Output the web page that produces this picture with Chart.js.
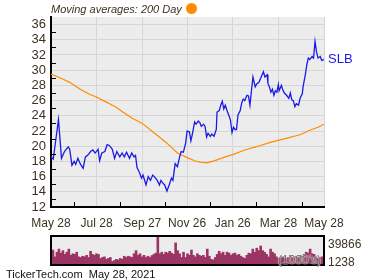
<!DOCTYPE html>
<html>
<head>
<meta charset="utf-8">
<script src="https://cdn.jsdelivr.net/npm/chart.js"></script>
<style>
  body { margin: 0; background: #fff; }
  #wrap { position: relative; width: 380px; height: 280px; overflow: hidden; font-family: "Liberation Sans", Arial, sans-serif; color: #3c3320; }
  #price-chart { position: absolute; left: 0; top: 0; }
  .txt { position: absolute; white-space: nowrap; font-size: 12px; line-height: 14px; }
  #title { left: 51px; top: 2px; font-style: italic; font-size: 11px; }
  #dot { position: absolute; left: 186px; top: 3px; width: 11px; height: 11px; border-radius: 50%; background: #ff8c00; }
  #vol-box { position: absolute; left: 50px; top: 235px; width: 271px; height: 27px; border: 2px solid #000; background: #ececec; }
  #vol-chart { position: absolute; left: 0; top: 0; }
  #unit { right: 2px; top: 16px; color: #5f6e60; text-shadow: 0 0 2px #fff, 0 0 1px #fff; }
  #footer { left: 6px; top: 267px; color: #111; font-size: 11px; }
</style>
</head>
<body>
<div id="wrap">
  <canvas id="price-chart" width="380" height="280"></canvas>
  <div class="txt" id="title">Moving averages: 200 Day</div>
  <div id="dot"></div>
  <div id="vol-box">
    <canvas id="vol-chart" width="271" height="27"></canvas>
    <div class="txt" id="unit">(1000's)</div>
  </div>
  <div class="txt" id="vol-max" style="left:328px;top:237px;"></div>
  <div class="txt" id="vol-min" style="left:328px;top:255px;"></div>
  <div class="txt" id="footer">TickerTech.com&nbsp;&nbsp;May 28, 2021</div>
</div>
<script>
  "use strict";

  // days since May 28, 2020
  const priceDays = [0, 3, 10, 14, 18, 23, 25, 28, 31, 33, 36, 39, 43, 46, 49, 53, 56, 59, 63, 65, 68, 72, 75, 78, 82, 85, 88, 92, 95, 98, 101, 105, 108, 111, 113, 115, 118, 121, 123, 127, 130, 133, 136, 139, 142, 145, 147, 149, 152, 155, 158, 161, 163, 166, 169, 172, 174, 177, 180, 182, 185, 187, 189, 192, 194, 197, 199, 201, 204, 206, 208, 210, 213, 215, 218, 221, 222, 225, 227, 229, 231, 233, 236, 238, 240, 242, 244, 246, 248, 250, 253, 255, 257, 259, 262, 264, 266, 268, 270, 273, 275, 278, 281, 284, 286, 289, 290, 292, 294, 296, 298, 300, 302, 304, 305, 308, 310, 312, 315, 318, 320, 322, 324, 326, 328, 331, 333, 336, 337, 340, 342, 344, 346, 349, 351, 353, 355, 357, 360, 362, 365];
  const prices = [18.6, 18.3, 23.5, 18.4, 19.3, 19.9, 19.6, 17.5, 18.0, 17.6, 18.4, 17.7, 17.1, 18.6, 18.8, 19.3, 19.5, 19.1, 19.6, 18.1, 19.1, 19.3, 20.2, 20.1, 19.6, 18.4, 19.3, 18.6, 19.1, 18.6, 19.2, 18.4, 19.1, 18.6, 18.8, 17.2, 16.6, 15.8, 16.2, 14.9, 16.0, 15.5, 16.2, 15.9, 15.5, 14.9, 15.5, 15.2, 14.9, 14.1, 14.9, 15.8, 15.5, 17.7, 17.3, 18.6, 19.3, 19.2, 20.4, 22.0, 21.9, 20.7, 21.6, 23.2, 22.9, 23.3, 23.1, 22.6, 22.9, 22.6, 21.2, 21.7, 21.3, 21.6, 21.3, 22.2, 24.5, 24.7, 25.4, 25.9, 24.9, 25.4, 24.5, 24.0, 23.4, 21.8, 22.5, 22.2, 22.2, 24.1, 24.7, 25.7, 26.2, 26.0, 26.7, 26.6, 25.4, 27.3, 29.1, 27.8, 28.2, 28.4, 29.1, 29.8, 29.1, 29.4, 28.3, 27.8, 27.1, 27.5, 26.7, 27.3, 27.1, 28.1, 27.3, 28.0, 27.4, 27.0, 26.7, 26.3, 27.0, 26.1, 26.0, 25.2, 25.6, 25.4, 26.3, 26.9, 27.8, 29.4, 30.7, 31.6, 31.4, 31.8, 31.6, 33.8, 32.4, 31.6, 31.8, 31.3, 31.4];

  // 200 day moving average
  const maDays = [0, 12, 25, 39, 52, 60, 72, 86, 96, 108, 122, 136, 146, 155, 169, 182, 193, 199, 209, 219, 233, 243, 259, 277, 293, 313, 333, 346, 357, 365];
  const maValues = [29.5, 29.0, 28.4, 27.5, 26.8, 26.5, 25.9, 25.2, 24.5, 23.7, 23.0, 21.9, 21.1, 20.4, 19.1, 18.5, 18.05, 17.9, 17.8, 18.1, 18.6, 18.9, 19.5, 20.0, 20.5, 21.0, 21.5, 22.1, 22.5, 22.9];

  // volume (1000's)
  const volumes = [21220, 11450, 18110, 22550, 16780, 20330, 15000, 18110, 22550, 13670, 15890, 15000, 18110, 11450, 10560, 12340, 11450, 13670, 10560, 19440, 15000, 13670, 15890, 15000, 9230, 10560, 11450, 7900, 9230, 10560, 4790, 6120, 7900, 7010, 9230, 7900, 12340, 10560, 12340, 11450, 10560, 15890, 20330, 13670, 15890, 11450, 13670, 10560, 12340, 10560, 13230, 15000, 16780, 39866, 15890, 18110, 15000, 18110, 16780, 19440, 16780, 15000, 31430, 20330, 15890, 10560, 18110, 10560, 15890, 13670,
    21220, 13670, 11450, 15890, 13670, 12340, 13670, 10560, 22550, 12340, 7900, 7010, 10560, 15000, 19440, 15890, 18110, 13670, 18110, 16780, 13670, 15890, 16780, 13670, 15000, 12340, 10560, 9230, 13670, 16780, 15890, 22550, 18110, 23880, 20330, 27000, 20330, 18110, 15000, 11450, 22550, 18110, 15890, 11450, 9230, 10560, 11450, 10560, 9230, 10560, 13670, 10560, 11450, 12340, 10560, 13670, 12340, 15000, 18110, 16780, 22550, 15890, 15000, 11450, 9230, 10560, 11450];
  const volMax = 39866;
  const volMin = 1238;

  const xTickDays = [0, 61, 122, 182, 243, 304, 365];
  const xTickLabels = ["May 28", "Jul 28", "Sep 27", "Nov 26", "Jan 26", "Mar 28", "May 28"];
  const xMinorDays = [31, 92, 152, 212, 274, 335];
  const yTicks = [12, 14, 16, 18, 20, 22, 24, 26, 28, 30, 32, 34, 36];
  const yMinor = [13, 15, 17, 19, 21, 23, 25, 27, 29, 31, 33, 35];
  const ticker = "SLB";

  const textColor = "#3c3320";
  const font = { family: "'Liberation Sans', Arial, sans-serif", size: 12 };

  // Plot background
  let plotBg = {
    id: "plotBg",
    beforeDraw: function (chart) {
      const a = chart.chartArea;
      const ctx = chart.ctx;
      ctx.save();
      ctx.fillStyle = "#ececec";
      ctx.fillRect(a.left, a.top, a.right - a.left, a.bottom - a.top);
      ctx.restore();
    },
  };

  // Minor ticks + ticker label
  let extras = {
    id: "extras",
    afterDraw: function (chart) {
      const ctx = chart.ctx;
      const a = chart.chartArea;
      const xs = chart.scales.x;
      const ys = chart.scales.y;
      ctx.save();
      ctx.strokeStyle = "#000";
      ctx.lineWidth = 1;
      ctx.beginPath();
      yMinor.forEach(function (v) {
        const y = Math.round(ys.getPixelForValue(v)) + 0.5;
        ctx.moveTo(a.left, y);
        ctx.lineTo(a.left + 5, y);
      });
      xMinorDays.forEach(function (d) {
        const x = Math.round(xs.getPixelForValue(d)) + 0.5;
        ctx.moveTo(x, a.bottom);
        ctx.lineTo(x, a.bottom - 5);
      });
      ctx.stroke();

      ctx.fillStyle = "#1a1ae6";
      ctx.font = "13px 'Liberation Sans', Arial, sans-serif";
      ctx.textBaseline = "middle";
      ctx.fillText(ticker, a.right + 4, ys.getPixelForValue(prices[prices.length - 1]));
      ctx.restore();
    },
  };

  // Price Chart
  let ctx1 = document.getElementById("price-chart").getContext("2d");
  let priceChart = new Chart(ctx1, {
    type: "line",
    data: {
      datasets: [
        {
          label: ticker,
          data: priceDays.map(function (d, i) {
            return { x: d, y: prices[i] };
          }),
          borderColor: "#1a1ae6",
          borderWidth: 1.3,
          pointRadius: 0,
          tension: 0,
        },
        {
          label: "200 Day",
          data: maDays.map(function (d, i) {
            return { x: d, y: maValues[i] };
          }),
          borderColor: "#ff8c00",
          borderWidth: 1.2,
          pointRadius: 0,
          tension: 0,
        },
      ],
    },
    options: {
      responsive: false,
      animation: false,
      layout: { padding: { top: 17, right: 56, left: 0, bottom: 0 } },
      plugins: { legend: { display: false }, tooltip: { enabled: false } },
      scales: {
        x: {
          type: "linear",
          min: 0,
          max: 365,
          afterBuildTicks: function (s) {
            s.ticks = xTickDays.map(function (v) {
              return { value: v };
            });
          },
          afterFit: function (s) {
            s.height = 73;
          },
          grid: { color: "#d6d6d6", drawTicks: false },
          border: { color: "#000", width: 2 },
          ticks: {
            autoSkip: false,
            maxRotation: 0,
            padding: 9,
            color: textColor,
            font: font,
            callback: function (v) {
              return xTickLabels[xTickDays.indexOf(v)];
            },
          },
        },
        y: {
          min: 12,
          max: 37,
          afterBuildTicks: function (s) {
            s.ticks = yTicks.map(function (v) {
              return { value: v };
            });
          },
          afterFit: function (s) {
            s.width = 51;
          },
          grid: { color: "#d6d6d6", drawTicks: false },
          border: { color: "#000", width: 2 },
          ticks: { autoSkip: false, padding: 5, color: textColor, font: { family: font.family, size: 13 } },
        },
      },
    },
    plugins: [plotBg, extras],
  });

  // Volume Chart
  document.getElementById("vol-max").textContent = volMax;
  document.getElementById("vol-min").textContent = volMin;
  let ctx2 = document.getElementById("vol-chart").getContext("2d");
  let volChart = new Chart(ctx2, {
    type: "bar",
    data: {
      labels: volumes.map(function (v, i) {
        return i;
      }),
      datasets: [
        {
          data: volumes,
          backgroundColor: "#9b3363",
          barPercentage: 1,
          categoryPercentage: 1,
        },
      ],
    },
    options: {
      responsive: false,
      animation: false,
      layout: { padding: 0 },
      plugins: { legend: { display: false }, tooltip: { enabled: false } },
      scales: {
        x: { display: false },
        y: { display: false, min: volMin, max: volMax },
      },
    },
  });
</script>
</body>
</html>
